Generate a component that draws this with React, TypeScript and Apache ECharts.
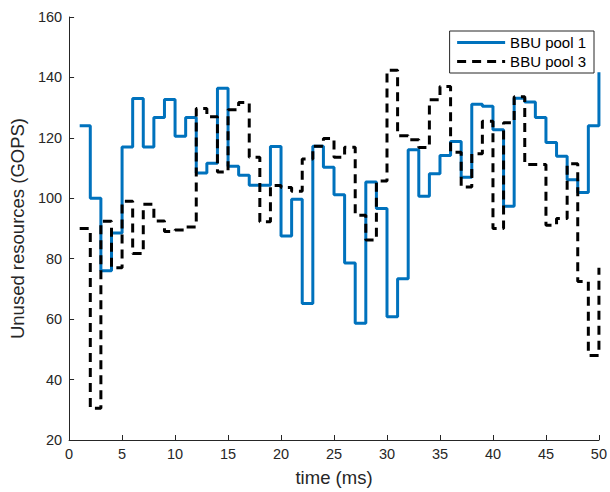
import React, { useEffect, useRef } from "react";
import * as echarts from "echarts";

const timeMs = [1, 2, 3, 4, 5, 6, 7, 8, 9, 10, 11, 12, 13, 14, 15, 16, 17, 18, 19, 20, 21, 22, 23, 24, 25, 26, 27, 28, 29, 30, 31, 32, 33, 34, 35, 36, 37, 38, 39, 40, 41, 42, 43, 44, 45, 46, 47, 48, 49, 50];

const pool1 = [124, 100, 76, 88.5, 117, 133, 117, 126.7, 132.7, 120.5, 126.7, 108.4, 111.6, 136.4, 110.6, 107.6, 104.3, 104.3, 117.1, 87.5, 99.7, 65.2, 117.2, 110.3, 101.2, 78.6, 58.6, 105.4, 96.6, 60.8, 73.4, 116.1, 100.7, 108.1, 114.2, 118.8, 107, 131.1, 130.5, 122.7, 97.4, 133.1, 131.9, 126.7, 118.5, 113.9, 106.1, 101.9, 124, 141.7];

const pool3 = [90, 30.5, 92.4, 77, 99, 81.7, 98, 92.5, 89, 89.5, 90.5, 129.7, 127, 108.7, 129.3, 131.7, 113.6, 92.2, 104.2, 103.6, 102.3, 113, 117.2, 119.8, 113.6, 116.9, 94.4, 86.2, 105.7, 142.4, 120.7, 119.4, 116.8, 132.6, 137, 115.2, 103.7, 114.7, 125.5, 90, 125, 133.6, 111.2, 111.2, 91.1, 93.3, 111.4, 72.5, 48, 77];

const seriesNames = ["BBU pool 1", "BBU pool 3"];
const xTitle = "time (ms)";
const yTitle = "Unused resources (GOPS)";

const FONT = "'Liberation Sans', Arial, Helvetica, sans-serif";
const AX = "#262626";

export default function App() {
  const ref = useRef<HTMLDivElement>(null);
  useEffect(() => {
    if (!ref.current) return;
    const chart = echarts.init(ref.current, undefined, { renderer: "svg" });
    const toPairs = (ys: number[]) => timeMs.map((t, i) => [t, ys[i]]);
    chart.setOption({
      animation: false,
      backgroundColor: "#ffffff",
      textStyle: { fontFamily: FONT },
      grid: { left: 65, right: 7, top: 17, bottom: 49, containLabel: false },
      legend: {
        orient: "vertical",
        right: 16,
        top: 31,
        backgroundColor: "#ffffff",
        borderColor: AX,
        borderWidth: 1,
        borderRadius: 0,
        padding: [4, 8, 4, 6],
        itemGap: 4,
        itemWidth: 48,
        itemHeight: 14,
        itemStyle: { opacity: 0 },
        lineStyle: { width: 3 },
        textStyle: { fontFamily: FONT, fontSize: 15, color: "#000" },
        data: seriesNames,
      },
      xAxis: {
        type: "value",
        min: 0,
        max: 50,
        interval: 5,
        name: xTitle,
        nameLocation: "middle",
        nameGap: 28,
        nameTextStyle: { fontFamily: FONT, fontSize: 18.5, color: AX },
        axisLine: { show: true, lineStyle: { color: AX, width: 1 } },
        axisTick: { show: true, inside: true, length: 5, lineStyle: { color: AX } },
        axisLabel: { fontFamily: FONT, fontSize: 14.5, color: AX, margin: 6 },
        splitLine: { show: false },
      },
      yAxis: {
        type: "value",
        min: 20,
        max: 160,
        interval: 20,
        name: yTitle,
        nameLocation: "middle",
        nameGap: 37,
        nameTextStyle: { fontFamily: FONT, fontSize: 18.5, color: AX },
        axisLine: { show: true, lineStyle: { color: AX, width: 1 } },
        axisTick: { show: true, inside: true, length: 5, lineStyle: { color: AX } },
        axisLabel: { fontFamily: FONT, fontSize: 14.5, color: AX, margin: 7 },
        splitLine: { show: false },
      },
      series: [
        {
          name: seriesNames[0],
          type: "line",
          step: "end",
          data: toPairs(pool1),
          symbol: "none",
          showSymbol: false,
          lineStyle: { color: "#0072BD", width: 3 },
          itemStyle: { color: "#0072BD" },
        },
        {
          name: seriesNames[1],
          type: "line",
          step: "end",
          data: toPairs(pool3),
          symbol: "none",
          showSymbol: false,
          lineStyle: { color: "#000000", width: 3, type: [9, 6] },
          itemStyle: { color: "#000000" },
        },
      ],
    });
    return () => chart.dispose();
  }, []);
  return (
    <div
      ref={ref}
      style={{ position: "fixed", left: 0, top: 0, width: 610, height: 492, background: "#fff" }}
    />
  );
}
